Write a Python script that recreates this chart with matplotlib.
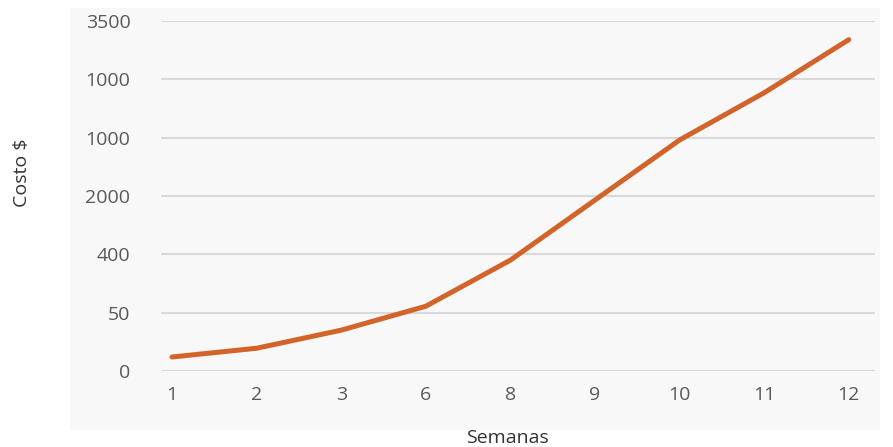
import matplotlib.pyplot as plt
from matplotlib.patches import Rectangle

plt.rcParams["font.family"] = ["Open Sans", "DejaVu Sans"]

# Categories as printed on the chart
semanas = ["1", "2", "3", "6", "8", "9", "10", "11", "12"]
costo_labels = ["0", "50", "400", "2000", "1000", "1000", "3500"]
# Line height, measured in gridline steps
costo = [0.24, 0.39, 0.70, 1.11, 1.90, 2.93, 3.96, 4.77, 5.68]

LINE_COLOR = "#d2642a"
GRID_COLOR = "#d9d9d9"
TICK_COLOR = "#595959"

fig = plt.figure(figsize=(8.93, 4.47), dpi=100)
fig.patch.set_facecolor("white")
fig.patches.append(
    Rectangle(
        (70 / 893, 1 - 430 / 447),
        810 / 893,
        422 / 447,
        transform=fig.transFigure,
        facecolor="#f8f8f8",
        edgecolor="none",
        zorder=-10,
    )
)

ax = fig.add_axes([161 / 893, 1 - 371 / 447, 714 / 893, 350 / 447])
ax.set_facecolor("none")
ax.set_zorder(1)

xs = list(range(len(semanas)))
ax.plot(
    xs,
    costo,
    color=LINE_COLOR,
    linewidth=3.6,
    solid_capstyle="round",
    solid_joinstyle="round",
    clip_on=False,
    zorder=3,
)

ax.set_xlim(-0.13, len(semanas) - 1 + 0.31)
ax.set_ylim(0, len(costo_labels) - 1)
ax.set_xticks(xs)
ax.set_xticklabels(semanas)
ax.set_yticks(range(len(costo_labels)))
ax.set_yticklabels(costo_labels)

ax.grid(axis="y", color=GRID_COLOR, linewidth=1.5)
ax.set_axisbelow(True)
for side in ["top", "right", "left", "bottom"]:
    ax.spines[side].set_visible(False)
ax.tick_params(
    axis="both", length=0, labelsize=14, labelcolor=TICK_COLOR
)
ax.tick_params(axis="x", pad=11)
ax.tick_params(axis="y", pad=22)

fig.text(
    507 / 893, 1 - 438 / 447, "Semanas", ha="center", va="center",
    fontsize=14, color="#333333",
)
fig.text(
    22 / 893, 1 - 173 / 447, "Costo $", ha="center", va="center",
    rotation=90, fontsize=14, color="#333333",
)

fig.savefig("out.png", dpi=100)
